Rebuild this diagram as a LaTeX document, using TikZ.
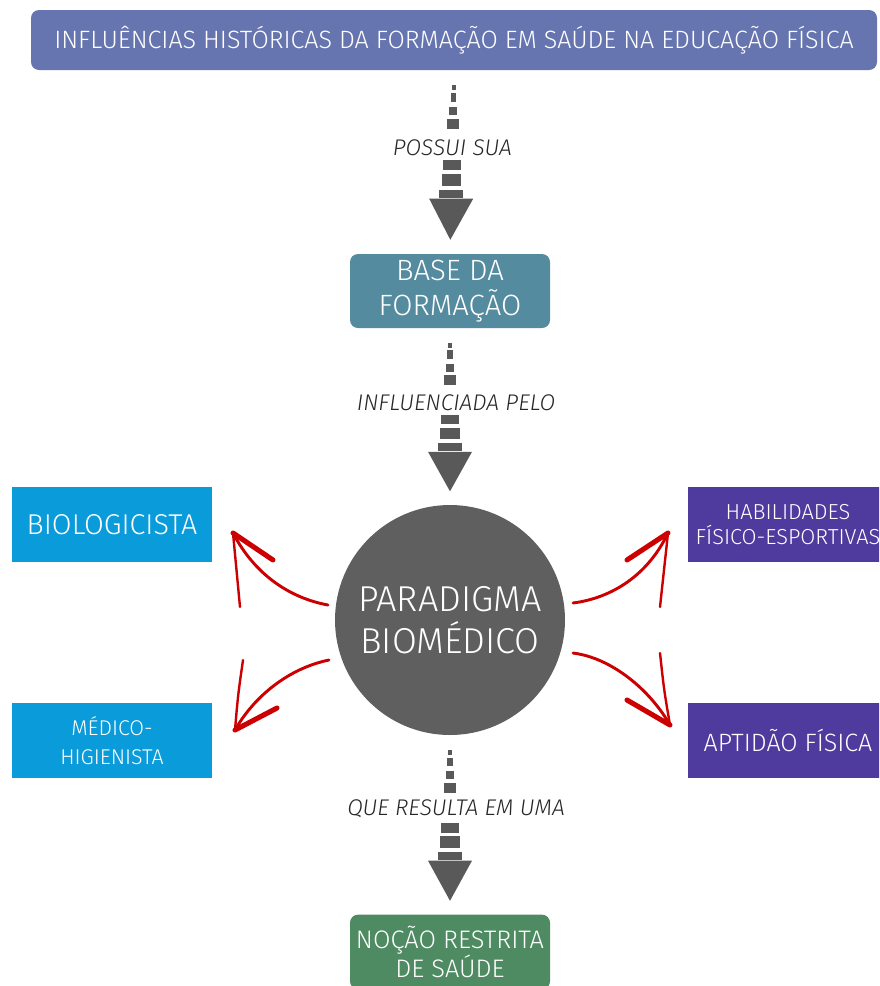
\documentclass[tikz,border=0pt]{standalone}
\usepackage{fontspec}
\setmainfont{Fira Sans Light}
\usetikzlibrary{calc}

\definecolor{topblue}{HTML}{6675B0}
\definecolor{basecyan}{HTML}{548B9E}
\definecolor{circgray}{HTML}{5F5F5F}
\definecolor{skyblue}{HTML}{0A9BDA}
\definecolor{deeppurple}{HTML}{4F3A9E}
\definecolor{leafgreen}{HTML}{4E8A62}
\definecolor{flowgray}{HTML}{595959}
\definecolor{brushred}{HTML}{CC0000}

% tapered dashed arrow between two nodes
\newcommand{\stepflow}[2]{%
  \foreach \ta/\tb/\w in {.082/.109/2,.125/.174/3,.201/.245/4,.266/.321/6,.489/.543/9,.565/.630/10,.652/.695/12}
    \fill[flowgray] ($(#1.south)!\ta!(#2.north)+(-\w,0)$) rectangle ($(#1.south)!\tb!(#2.north)+(\w,0)$);
  \fill[flowgray] ($(#1.south)!.7!(#2.north)+(-22,0)$) -- ($(#1.south)!.7!(#2.north)+(22,0)$)
    -- ($(#1.south)!.924!(#2.north)$) -- cycle;
}

\begin{document}
\begin{tikzpicture}[x=0.75pt,y=-0.75pt,
  box/.style={text=white,align=center,inner sep=0pt},
  flowlabel/.style={font=\itshape\fontsize{17}{20}\selectfont,text=black!85,fill=white,inner sep=1pt},
  brush/.style={draw=brushred,line width=2.2pt,line cap=round},
  barb/.style={draw=brushred,line width=3.8pt,line cap=round},
  thinbarb/.style={draw=brushred,line width=1.8pt,line cap=round}]
\clip (0,0) rectangle (879,986);
\useasboundingbox (0,0) rectangle (879,986);

% main chain
\node[box,fill=topblue,rounded corners=6pt,minimum width=634.5pt,minimum height=45pt,
  font=\fontsize{18.8}{24}\selectfont] (hist) at (454,40)
  {INFLUÊNCIAS HISTÓRICAS DA FORMAÇÃO EM SAÚDE NA EDUCAÇÃO FÍSICA};
\node[box,fill=basecyan,rounded corners=6pt,minimum width=150pt,minimum height=55.5pt,
  font=\fontsize{22}{26}\selectfont] (base) at (450,291) {BASE DA\\FORMAÇÃO};
\node[box,circle,fill=circgray,minimum size=172.5pt,
  font=\fontsize{27}{31}\selectfont] (para) at (450,620) {PARADIGMA\\BIOMÉDICO};
\node[box,fill=leafgreen,rounded corners=6pt,minimum width=150pt,minimum height=56pt,
  font=\fontsize{19}{22}\selectfont] (noc) at (450,952) {NOÇÃO RESTRITA\\DE SAÚDE};

% side boxes
\node[box,fill=skyblue,minimum width=150pt,minimum height=56.25pt,
  font=\fontsize{21.5}{25}\selectfont] (bio) at (112,524.5) {BIOLOGICISTA};
\node[box,fill=skyblue,minimum width=150pt,minimum height=56.25pt,
  font=\fontsize{16}{22}\selectfont] (med) at (112,740.5) {MÉDICO-\\HIGIENISTA};
\node[box,fill=deeppurple,minimum width=150pt,minimum height=56.25pt,
  font=\fontsize{16.3}{19}\selectfont] (hab) at (788,524.5) {HABILIDADES\\FÍSICO-ESPORTIVAS};
\node[box,fill=deeppurple,minimum width=150pt,minimum height=56.25pt,
  font=\fontsize{18.8}{22}\selectfont] (apt) at (788,740.5) {APTIDÃO FÍSICA};

% dashed arrows
\stepflow{hist}{base}
\stepflow{base}{para}
\stepflow{para}{noc}
\node[flowlabel] (l1) at ($(hist.south)!.42!(base.north)$) {POSSUI SUA};
\node[flowlabel] (l2) at ($(base.south)!.42!(para.north)+(6,0)$) {INFLUENCIADA PELO};
\node[flowlabel] (l3) at ($(para.south)!.41!(noc.north)+(6,0)$) {QUE RESULTA EM UMA};

% red brush arrows
\coordinate (bioS) at (328,605);
\coordinate (bioT) at (233,533);
\coordinate (medS) at (329,660);
\coordinate (medT) at (235,730);
\coordinate (habS) at (573,603);
\coordinate (habT) at (668,533);
\coordinate (aptS) at (573,653);
\coordinate (aptT) at (670,725);

\draw[brush] (bioS) .. controls (290,598) and (255,575) .. (bioT);
\draw[thinbarb] (bioT) .. controls (236,570) .. (240,607);
\draw[barb] (bioT) -- (273,560);

\draw[brush] (medS) .. controls (290,668) and (255,695) .. (medT);
\draw[thinbarb] (medT) .. controls (238,695) .. (243,660);
\draw[barb] (medT) -- (277,708);

\draw[brush] (habS) .. controls (612,598) and (648,575) .. (habT);
\draw[thinbarb] (habT) .. controls (664,570) .. (660,607);
\draw[barb] (habT) -- (627,560);

\draw[brush] (aptS) .. controls (612,658) and (650,690) .. (aptT);
\draw[thinbarb] (aptT) .. controls (664,690) .. (660,653);
\draw[barb] (aptT) -- (627,700);
\end{tikzpicture}
\end{document}
